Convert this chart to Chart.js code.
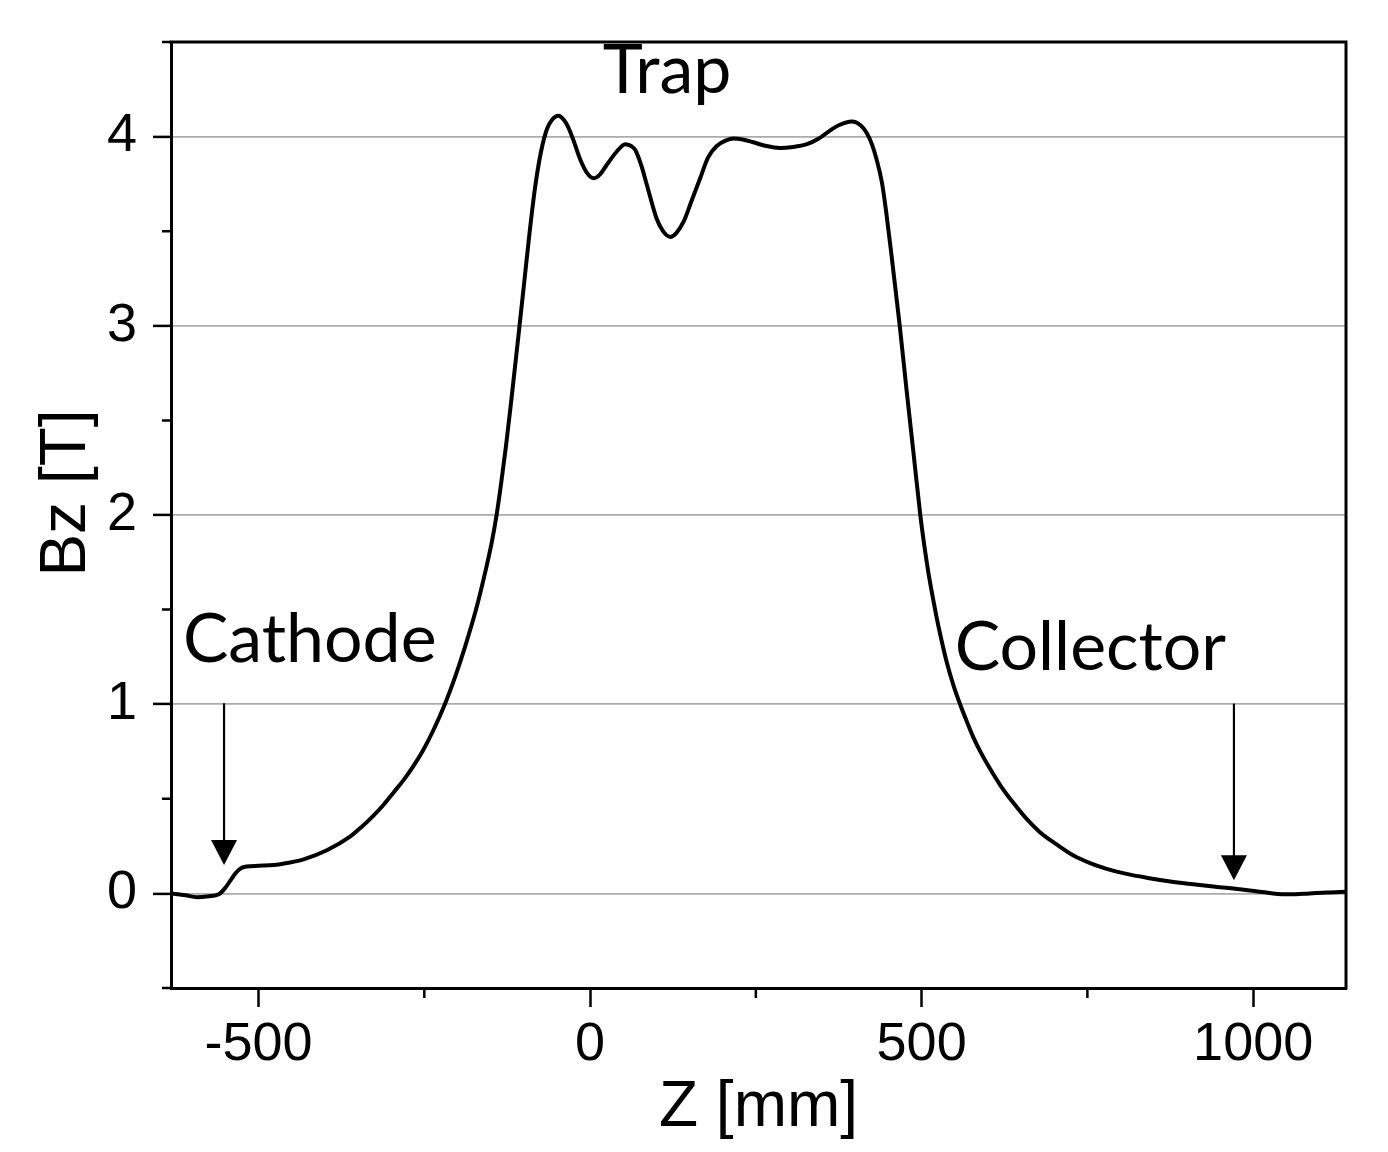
<!DOCTYPE html>
<html><head><meta charset="utf-8">
<script src="https://cdn.jsdelivr.net/npm/chart.js@4.4.0/dist/chart.umd.min.js"></script>
<style>html,body{margin:0;padding:0;background:#fff;}canvas{display:block;}</style>
</head><body>
<canvas id="c" width="1388" height="1152"></canvas>
<script>
// ---- data ----
const zValues = [-632,-610,-593,-575,-560,-550,-542,-535,-528,-518,-500,-477,-455,-432,-397,-362,-345,-327,-311,-296,-281,-266,-252,-236,-219,-203,-188,-172,-156,-148,-141,-134,-127,-120,-113,-107,-99,-91,-83,-74,-65,-57,-48,-40,-33,-25,-15,-5,6,15,25,40,53,62,68,77,86,100,110,121,130,141,152,166,178,191,205,216,230,246,266,286,306,327,345,357,375,395,408,417,425,432,440,447,455,461,467,477,488,498,504,510,516,522,528,538,548,558,568,578,590,603,620,638,658,678,703,729,754,779,809,839,875,910,940,970,1010,1030,1055,1085,1110,1140];
const bzValues = [0.00,-0.01,-0.02,-0.015,-0.005,0.03,0.07,0.105,0.13,0.142,0.146,0.15,0.162,0.18,0.228,0.30,0.35,0.41,0.47,0.535,0.60,0.675,0.755,0.865,1.0,1.15,1.31,1.50,1.73,1.86,2.0,2.17,2.36,2.57,2.79,2.98,3.24,3.5,3.73,3.92,4.04,4.09,4.11,4.09,4.05,3.98,3.88,3.81,3.78,3.80,3.85,3.92,3.96,3.95,3.93,3.85,3.74,3.57,3.50,3.47,3.49,3.55,3.65,3.78,3.89,3.95,3.98,3.99,3.985,3.97,3.95,3.94,3.945,3.96,3.99,4.02,4.06,4.08,4.06,4.02,3.96,3.88,3.76,3.59,3.36,3.18,3.0,2.67,2.32,2.0,1.84,1.70,1.58,1.47,1.37,1.22,1.10,1.0,0.91,0.825,0.74,0.66,0.565,0.48,0.395,0.325,0.26,0.20,0.16,0.13,0.103,0.083,0.063,0.048,0.036,0.026,0.009,0.0,-0.005,0.0,0.005,0.009];
const xTickValues = [-500,-250,0,250,500,750,1000];
const xTickLabels = ['-500','','0','','500','','1000'];
const yTickValues = [-0.5,0,0.5,1,1.5,2,2.5,3,3.5,4,4.5];
const yTickLabels = ['','0','','1','','2','','3','','4',''];
const xAxisTitle = 'Z [mm]';
const yAxisTitle = 'Bz [T]';
const annotationTexts = ['Trap','Cathode','Collector'];

// ---- annotation placement (data units) & styles ----
const annotLayout = {
  texts: [
    {i:0, z:19, b:4.23},
    {i:1, z:-614, b:1.225},
    {i:2, z:550, b:1.18}
  ],
  arrows: [
    {z:-552, from:1.005, to:0.15},
    {z:971, from:1.003, to:0.07}
  ]
};

const annotationPlugin = {
  id: 'annot',
  afterDraw(chart) {
    const {ctx, chartArea: a, scales: {x, y}} = chart;
    ctx.save();
    // top & right frame
    ctx.strokeStyle = '#000'; ctx.lineWidth = 3;
    ctx.beginPath();
    ctx.moveTo(a.left - 1.5, a.top); ctx.lineTo(a.right, a.top); ctx.lineTo(a.right, a.bottom + 1.5);
    ctx.stroke();
    // minor ticks
    ctx.lineWidth = 2.5;
    ctx.beginPath();
    xTickValues.forEach((v, i) => {
      if (xTickLabels[i] === '') {
        const px = x.getPixelForValue(v);
        ctx.moveTo(px, a.bottom); ctx.lineTo(px, a.bottom + 10);
      }
    });
    yTickValues.forEach((v, i) => {
      if (yTickLabels[i] === '') {
        const py = y.getPixelForValue(v);
        ctx.moveTo(a.left, py); ctx.lineTo(a.left - 9, py);
      }
    });
    ctx.stroke();
    // axis titles
    ctx.fillStyle = '#000';
    ctx.font = '64px "Liberation Sans", Arial, sans-serif';
    ctx.textAlign = 'center'; ctx.textBaseline = 'alphabetic';
    ctx.fillText(xAxisTitle, (a.left + a.right) / 2, 1126);
    ctx.save();
    ctx.translate(85, 493); ctx.rotate(-Math.PI / 2);
    ctx.fillText(yAxisTitle, 0, 0);
    ctx.restore();
    // annotation texts
    ctx.font = '68px Lato, "Open Sans", sans-serif';
    ctx.textAlign = 'left';
    annotLayout.texts.forEach(t => {
      ctx.fillText(annotationTexts[t.i], x.getPixelForValue(t.z), y.getPixelForValue(t.b));
    });
    // arrows
    annotLayout.arrows.forEach(ar => {
      const px = x.getPixelForValue(ar.z);
      const y0 = y.getPixelForValue(ar.from);
      const y1 = y.getPixelForValue(ar.to);
      const hh = 25, hw = 13;
      ctx.lineWidth = 2.2;
      ctx.beginPath(); ctx.moveTo(px, y0); ctx.lineTo(px, y1 - hh + 1); ctx.stroke();
      ctx.beginPath(); ctx.moveTo(px - hw, y1 - hh); ctx.lineTo(px + hw, y1 - hh); ctx.lineTo(px, y1); ctx.closePath(); ctx.fill();
    });
    ctx.restore();
  }
};

const tickFont = {family: '"Liberation Sans", Arial, sans-serif', size: 54};

new Chart(document.getElementById('c'), {
  type: 'line',
  data: {
    datasets: [{
      data: zValues.map((z, i) => ({x: z, y: bzValues[i]})),
      borderColor: '#000', borderWidth: 4,
      pointRadius: 0, fill: false,
      cubicInterpolationMode: 'monotone'
    }]
  },
  options: {
    responsive: false, animation: false,
    layout: {padding: {top: 42, right: 42, left: 0, bottom: 0}},
    plugins: {legend: {display: false}, tooltip: {enabled: false}},
    scales: {
      x: {
        type: 'linear', min: -632, max: 1140,
        afterBuildTicks: s => { s.ticks = xTickValues.map(v => ({value: v})); },
        afterFit: s => { s.height = 164; s.paddingLeft = 0; s.paddingRight = 0; },
        grid: {drawOnChartArea: false, drawTicks: true, tickLength: 19, tickWidth: 2.5,
               tickColor: c => (xTickLabels[xTickValues.indexOf(c.tick.value)] ? '#000' : 'rgba(0,0,0,0)')},
        border: {display: true, color: '#000', width: 3},
        ticks: {autoSkip: false, maxRotation: 0, padding: 6, color: '#000', font: tickFont,
                callback: v => { const i = xTickValues.indexOf(v); return i >= 0 ? xTickLabels[i] : ''; }}
      },
      y: {
        type: 'linear', min: -0.5, max: 4.5,
        afterBuildTicks: s => { s.ticks = yTickValues.map(v => ({value: v})); },
        afterFit: s => { s.width = 171; s.paddingTop = 0; s.paddingBottom = 0; },
        grid: {drawOnChartArea: true, drawTicks: true, tickLength: 18, tickWidth: 2.5, lineWidth: 1.8,
               color: c => (yTickLabels[yTickValues.indexOf(c.tick.value)] ? '#ababab' : 'rgba(0,0,0,0)'),
               tickColor: c => (yTickLabels[yTickValues.indexOf(c.tick.value)] ? '#000' : 'rgba(0,0,0,0)')},
        border: {display: true, color: '#000', width: 3},
        ticks: {autoSkip: false, padding: 16, color: '#000', font: tickFont,
                callback: v => { const i = yTickValues.indexOf(v); return i >= 0 ? yTickLabels[i] : ''; }}
      }
    }
  },
  plugins: [annotationPlugin]
});
</script>
</body></html>
